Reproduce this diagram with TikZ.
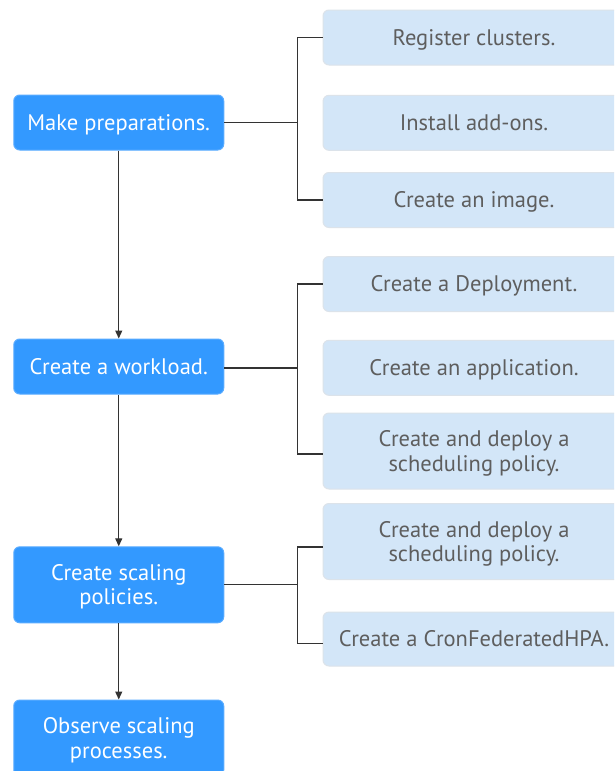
\documentclass[tikz,border=0pt]{standalone}
\usepackage{fontspec}
\setmainfont{PT Sans}
\usetikzlibrary{arrows.meta}
\definecolor{stepblue}{HTML}{3399FF}
\definecolor{stepedge}{HTML}{5AACFF}
\definecolor{subfill}{HTML}{D3E6F8}
\definecolor{subedge}{HTML}{DCE3EA}
\definecolor{subtext}{HTML}{5E5E5E}
\definecolor{linkgray}{HTML}{333333}
\begin{document}
\begin{tikzpicture}[x=1pt,y=-1pt,
  boxbase/.style={line width=1pt, rounded corners=6pt, align=center, inner sep=0pt,
    font=\fontsize{22.5}{24.5}\selectfont, text height=15.5pt, text depth=0pt},
  twolines/.style={text height=40pt},
  mainstep/.style={boxbase, draw=stepedge, fill=stepblue, text=white, minimum width=210pt},
  substep/.style={boxbase, draw=subedge, fill=subfill, text=subtext, minimum width=302pt},
  link/.style={draw=linkgray, line width=1.3pt},
  flow/.style={link, -{Triangle[length=8pt,width=7pt]}}]
\clip (0,0) rectangle (614,771);
\fill[white] (0,0) rectangle (614,771);

% main steps
\node[mainstep, minimum height=55pt] (m1) at (118.75,122.5) {Make preparations.};
\node[mainstep, minimum height=55pt] (m2) at (118.75,366.5) {Create a workload.};
\node[mainstep, twolines, minimum height=76pt] (m3) at (118.75,584.8) {Create scaling\\policies.};
\node[mainstep, twolines, minimum height=76pt] (m4) at (118.75,738) {Observe scaling\\processes.};

% sub-steps
\node[substep, minimum height=55pt] (r1) at (474,37.5) {Register clusters.};
\node[substep, minimum height=55pt] (r2) at (474,122.8) {Install add-ons.};
\node[substep, minimum height=55pt] (r3) at (474,200) {Create an image.};
\node[substep, minimum height=55pt] (r4) at (474,284) {Create a Deployment.};
\node[substep, minimum height=55pt] (r5) at (474,367.8) {Create an application.};
\node[substep, twolines, minimum height=76pt] (r6) at (474,451) {Create and deploy a\\scheduling policy.};
\node[substep, twolines, minimum height=76pt] (r7) at (474,541.5) {Create and deploy a\\scheduling policy.};
\node[substep, minimum height=54pt] (r8) at (474,639) {Create a CronFederatedHPA.};

% bus columns
\coordinate (b1) at (297.6,122.5);
\coordinate (b2) at (297.6,368);
\coordinate (b3) at (297.6,584.5);

% step to step
\draw[flow] (m1) -- (m2);
\draw[flow] (m2) -- (m3);
\draw[flow] (m3) -- (m4);

% branches of the first step
\draw[link] (m1.east) -- (b1);
\draw[link] (r1.west) -| (b1) |- (r3.west);

% branches of the second step
\draw[link] (m2.east |- b2) -- (b2);
\draw[link] (r4.west) -| (b2) |- ([yshift=-3pt]r6.west);

% branches of the third step
\draw[link] (m3.east |- b3) -- (b3);
\draw[link] ([yshift=-5.5pt]r7.west) -| (b3) |- ([yshift=-4.7pt]r8.west);
\end{tikzpicture}
\end{document}
